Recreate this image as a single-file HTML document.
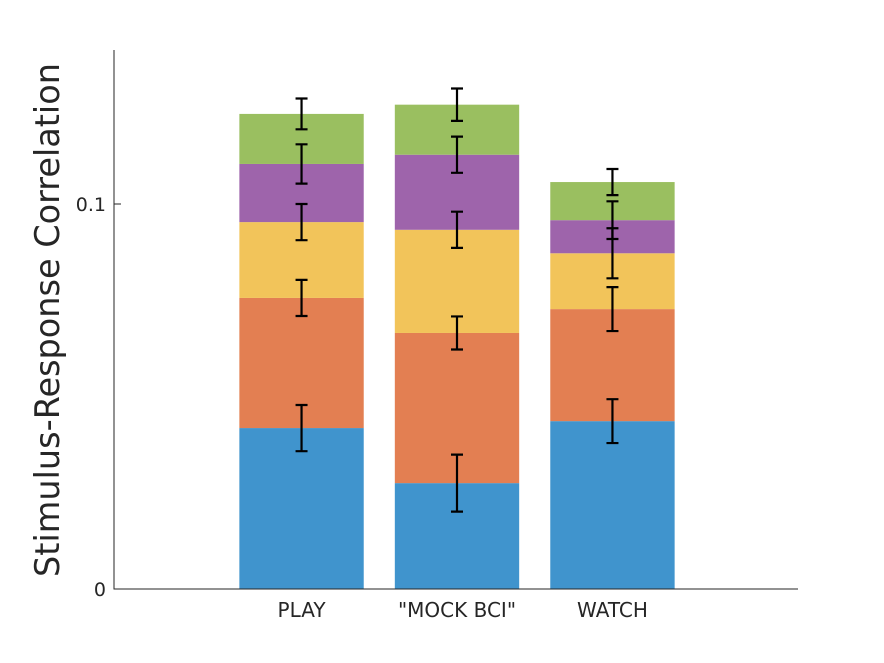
<!DOCTYPE html>
<html><head><meta charset="utf-8"><style>
html,body{margin:0;padding:0;background:#fff;}
svg{display:block;font-family:"DejaVu Sans","Liberation Sans",sans-serif;}
</style></head><body>
<svg id="chart" width="884" height="663"></svg>
<script>
const categories = ["PLAY", "\"MOCK BCI\"", "WATCH"];
const seriesBlue   = [0.0418, 0.0275, 0.0436];
const seriesOrange = [0.0338, 0.0390, 0.0291];
const seriesYellow = [0.0197, 0.0268, 0.0145];
const seriesPurple = [0.0151, 0.0195, 0.0086];
const seriesGreen  = [0.0130, 0.0130, 0.0099];
const errBlue   = [0.0060, 0.0074, 0.0057];
const errOrange = [0.0047, 0.0043, 0.0057];
const errYellow = [0.0047, 0.0047, 0.0065];
const errPurple = [0.0051, 0.0047, 0.0049];
const errGreen  = [0.0040, 0.0042, 0.0034];
const yTicks = [0, 0.1];
const yTickLabels = ["0", "0.1"];

const NS = "http://www.w3.org/2000/svg";
const svg = document.getElementById("chart");
const L = 114, R = 798, T = 50, B = 589;
const xMin = -0.2, xMax = 4.2;
const yScale = v => B - v * 3850;
const xScale = i => L + 1 + (i + 1 - xMin) / (xMax - xMin) * (R - L);
function mk(tag, attrs) { const e = document.createElementNS(NS, tag); for (const k in attrs) e.setAttribute(k, attrs[k]); svg.appendChild(e); return e; }

const series = [
  {name:"blue", vals:seriesBlue, err:errBlue, color:"#4094cd"},
  {name:"orange", vals:seriesOrange, err:errOrange, color:"#e37f52"},
  {name:"yellow", vals:seriesYellow, err:errYellow, color:"#f2c45a"},
  {name:"purple", vals:seriesPurple, err:errPurple, color:"#9e64ab"},
  {name:"green", vals:seriesGreen, err:errGreen, color:"#9abf60"}
];
const bw = 0.8 * (xScale(1) - xScale(0));
const errs = [];
categories.forEach((c, i) => {
  let cum = 0;
  const cx = xScale(i);
  series.forEach(s => {
    const y0 = yScale(cum); cum += s.vals[i]; const y1 = yScale(cum);
    const r = mk("rect", {x: cx - bw/2, y: y1, width: bw, height: y0 - y1, fill: s.color});
    
    
    errs.push({cx, top: cum + s.err[i], bot: cum - s.err[i], name: s.name, i});
  });
  const t = mk("text", {x: cx, y: 617, "text-anchor": "middle", "font-size": 20, fill: "#262626"});
  t.textContent = c;
  
  
});
errs.forEach(e => {
  const g = mk("path", {d: `M${e.cx},${yScale(e.top)}V${yScale(e.bot)}M${e.cx-6},${yScale(e.top)}H${e.cx+6}M${e.cx-6},${yScale(e.bot)}H${e.cx+6}`, stroke: "#000", "stroke-width": 2.2, fill: "none"});
  
  
});
const ax = mk("path", {d: `M${L},${T}V${B}H${R}`, stroke: "#262626", "stroke-width": 1, fill: "none"});


yTicks.forEach((v, k) => {
  const tk = mk("path", {d: `M${L},${yScale(v)}H${L+7}`, stroke: "#262626", "stroke-width": 1});
  
  
  const t = mk("text", {x: L - 8, y: yScale(v) + 7, "text-anchor": "end", "font-size": 19, fill: "#262626"});
  t.textContent = yTickLabels[k];
  
  
});
const yl = mk("text", {x: 0, y: 0, transform: "translate(59,320) rotate(-90)", "text-anchor": "middle", "font-size": 33.5, fill: "#262626"});
yl.textContent = "Stimulus-Response Correlation";


</script>
</body></html>
